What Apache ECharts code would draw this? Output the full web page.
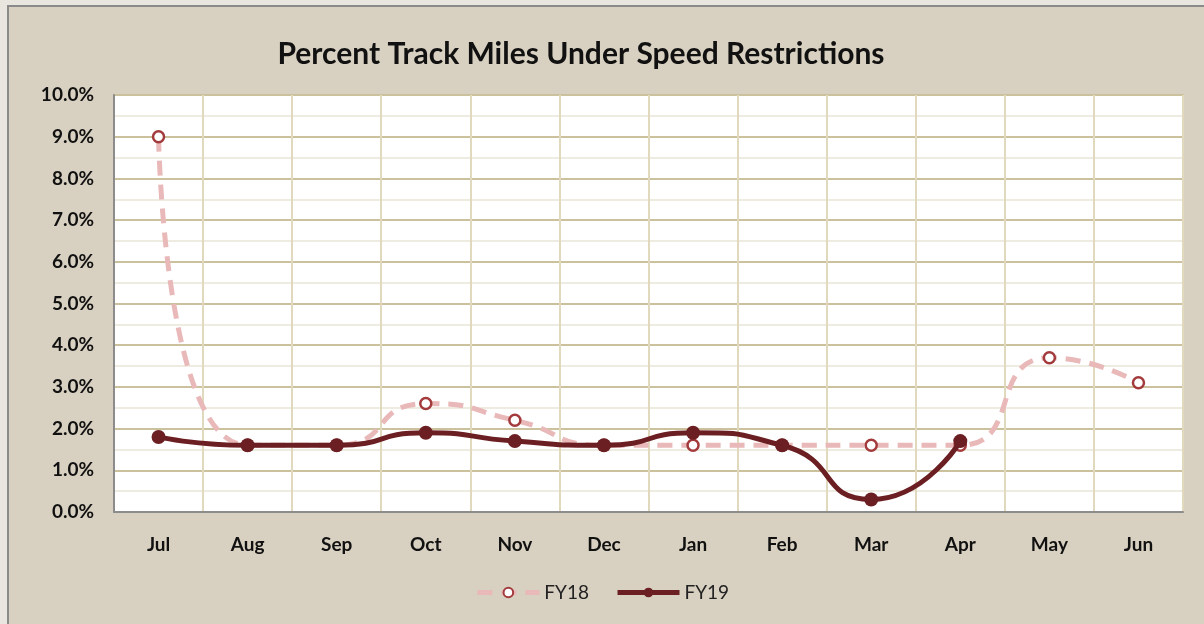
<!DOCTYPE html>
<html>
<head>
<meta charset="utf-8">
<script src="https://cdn.jsdelivr.net/npm/echarts@6/dist/echarts.min.js"></script>
<style>
  html, body { margin: 0; padding: 0; background: #e9e6e0; }
  #frame { position: absolute; left: 7px; top: 5px; right: 0; bottom: 0;
           background: #d8d0c0; border-left: 2px solid #8a8a8a; border-top: 2px solid #8a8a8a; }
  #chart { position: absolute; left: -9px; top: -7px; width: 1204px; height: 624px; }
</style>
</head>
<body>
<div id="frame"><div id="chart"></div></div>
<script>
const months = ['Jul', 'Aug', 'Sep', 'Oct', 'Nov', 'Dec', 'Jan', 'Feb', 'Mar', 'Apr', 'May', 'Jun']
const fy18 = [9.0, 1.6, 1.6, 2.6, 2.2, 1.6, 1.6, 1.6, 1.6, 1.6, 3.7, 3.1]
const fy19 = [1.8, 1.6, 1.6, 1.9, 1.7, 1.6, 1.9, 1.6, 0.3, 1.7]
const yMax = 10
const font = 'Lato'

const chart = echarts.init(document.getElementById('chart'))
chart.setOption({
  backgroundColor: 'transparent',
  animation: false,
  title: {
    text: 'Percent Track Miles Under Speed Restrictions',
    left: 576, top: 34, textAlign: 'center',
    textStyle: { fontFamily: font, fontSize: 30, fontWeight: 'bold', color: '#111' }
  },
  legend: {
    bottom: 17, left: 'center', itemWidth: 62, itemHeight: 12, itemGap: 26,
    textStyle: { fontFamily: font, fontSize: 19, color: '#222' },
    lineStyle: { width: 5 },
    data: ['FY18', 'FY19']
  },
  grid: {
    left: 114, right: 21, top: 95, bottom: 112,
    show: true, backgroundColor: '#ffffff', borderColor: '#cbc19c', borderWidth: 2
  },
  xAxis: {
    type: 'category', data: months, boundaryGap: true,
    axisLine: { lineStyle: { color: '#8c8c8c', width: 2 } },
    axisTick: { show: false },
    axisLabel: { fontFamily: font, fontWeight: 'bold', fontSize: 19, color: '#111', margin: 23 },
    splitLine: { show: true, interval: 0, lineStyle: { color: '#e0d9bd', width: 2 } }
  },
  yAxis: {
    type: 'value', min: 0, max: yMax, interval: 1,
    axisLine: { show: true, lineStyle: { color: '#8c8c8c', width: 2 } },
    axisTick: { show: false },
    axisLabel: { fontFamily: font, fontWeight: 'bold', fontSize: 19, color: '#111', margin: 20,
      formatter: v => v.toFixed(1) + '%' },
    splitLine: { lineStyle: { color: '#cbc19c', width: 2 } },
    minorTick: { show: false, splitNumber: 2 },
    minorSplitLine: { show: true, lineStyle: { color: '#eeebe1', width: 2 } }
  },
  series: [
    {
      name: 'FY18', type: 'line', data: fy18, smooth: 0.6,
      symbol: 'circle', symbolSize: 11, showAllSymbol: true,
      lineStyle: { color: '#e8b9b8', width: 5, type: [15, 9] },
      itemStyle: { color: '#fff', borderColor: '#a33a3c', borderWidth: 2.5 },
      z: 2
    },
    {
      name: 'FY19', type: 'line', data: fy19, smooth: 0.6,
      symbol: 'circle', symbolSize: 14,
      lineStyle: { color: '#6b1f22', width: 5 },
      itemStyle: { color: '#6b1f22' },
      z: 3
    }
  ]
})
</script>
</body>
</html>
